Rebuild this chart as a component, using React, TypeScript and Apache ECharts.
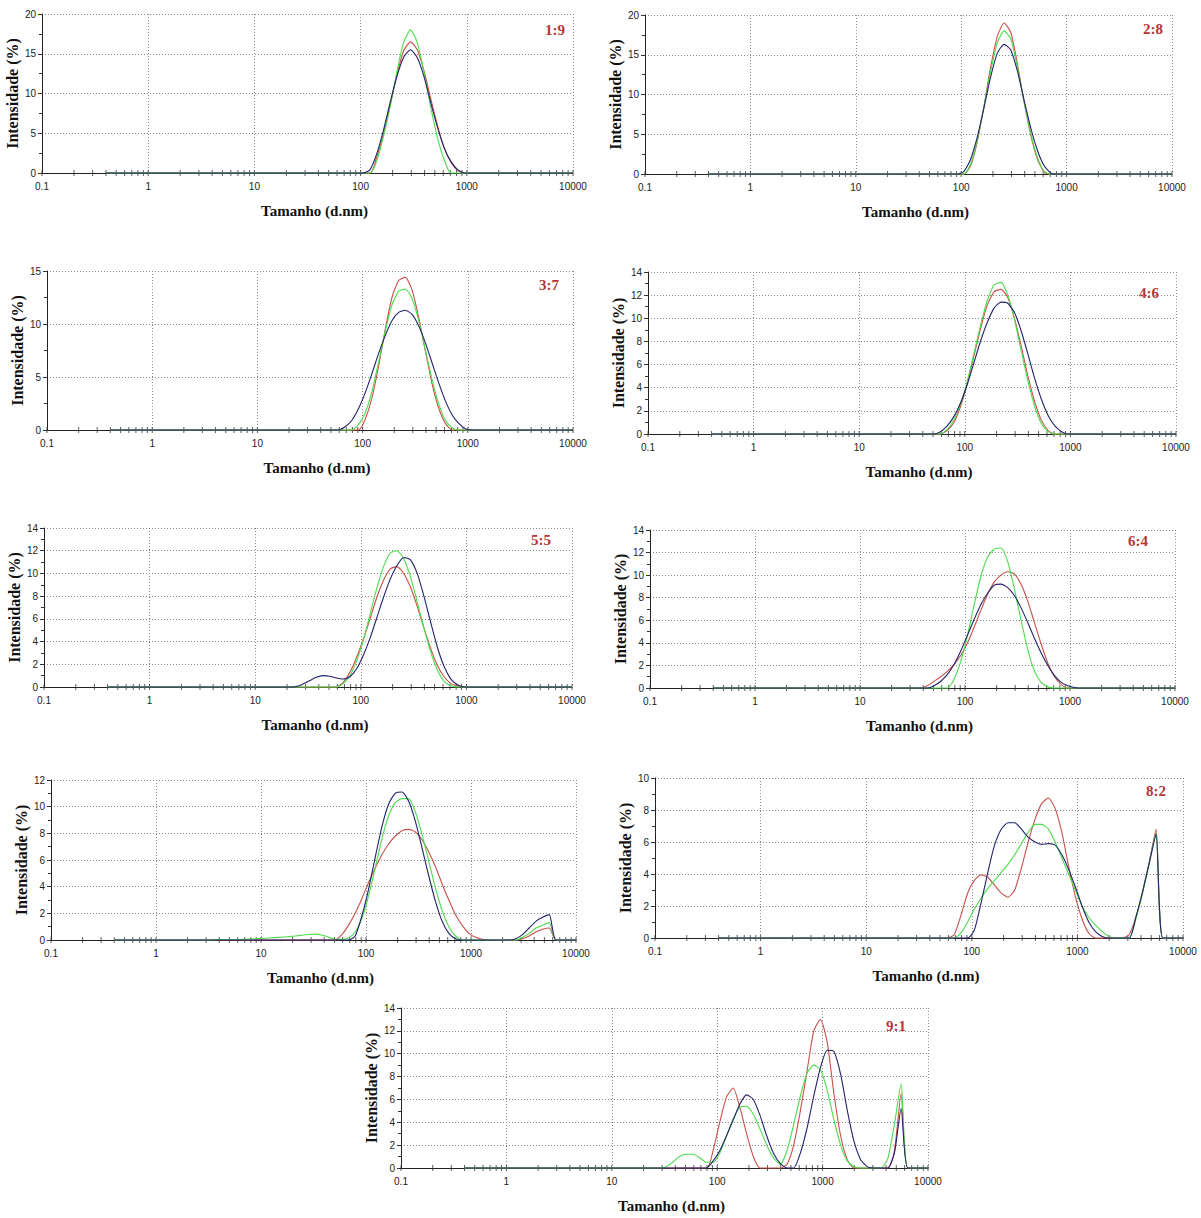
import React, { useEffect, useRef } from "react";
import * as echarts from "echarts";

type Pt = [number, number];

// ---- Data: [size (d.nm), intensity (%)] ----
// Panel 1:9
const p19Red: Pt[] = [[0.4,0],[122.4,0],[141.8,2.0],[164.2,4.9],[190.1,8.6],[220.2,12.4],[255,15.4],[295.3,16.5],[342,15.5],[396.1,12.8],[458.7,9.3],[531.2,5.9],[615.1,3.1],[712.4,1.3],[825,0.3],[955.4,0],[10000,0]];
const p19Green: Pt[] = [[0.4,0],[122.4,0],[141.8,1.5],[164.2,4.6],[190.1,8.4],[220.2,12.8],[255,16.5],[295.3,18.0],[342,16.4],[396.1,12.6],[458.7,8.2],[531.2,4.4],[615.1,1.6],[712.4,0],[10000,0]];
const p19Navy: Pt[] = [[0.4,0],[105.7,0],[122.4,0.4],[141.8,2.4],[164.2,5.4],[190.1,8.9],[220.2,12.2],[255,14.6],[295.3,15.5],[342,14.5],[396.1,12.1],[458.7,8.8],[531.2,5.7],[615.1,3.1],[712.4,1.4],[825,0.4],[955.4,0],[10000,0]];
// Panel 2:8
const p28Red: Pt[] = [[0.4,0],[105.7,0],[122.4,1.0],[141.8,4.0],[164.2,8.5],[190.1,13.4],[220.2,17.3],[255,19.0],[295.3,17.8],[342,13.8],[396.1,9.0],[458.7,4.8],[531.2,1.8],[615.1,0.2],[712.4,0],[10000,0]];
const p28Green: Pt[] = [[0.4,0],[105.7,0],[122.4,1.2],[141.8,4.2],[164.2,8.4],[190.1,12.9],[220.2,16.5],[255,18.0],[295.3,17.0],[342,13.4],[396.1,9.0],[458.7,5.0],[531.2,2.0],[615.1,0.3],[712.4,0],[10000,0]];
const p28Navy: Pt[] = [[0.4,0],[91.28,0],[105.7,0.3],[122.4,1.8],[141.8,4.6],[164.2,8.3],[190.1,12.2],[220.2,15.2],[255,16.3],[295.3,15.6],[342,12.9],[396.1,9.2],[458.7,5.7],[531.2,2.9],[615.1,1.0],[712.4,0.1],[825,0],[10000,0]];
// Panel 3:7
const p37Red: Pt[] = [[0.4,0],[91.28,0],[105.7,1.0],[122.4,3.0],[141.8,6.0],[164.2,9.5],[190.1,12.5],[220.2,14.1],[255,14.4],[295.3,13.2],[342,10.6],[396.1,7.4],[458.7,4.3],[531.2,2.0],[615.1,0.6],[712.4,0],[10000,0]];
const p37Green: Pt[] = [[0.4,0],[78.82,0],[91.28,0.5],[105.7,1.6],[122.4,3.6],[141.8,6.4],[164.2,9.3],[190.1,11.8],[220.2,13.1],[255,13.3],[295.3,12.4],[342,10.3],[396.1,7.5],[458.7,4.7],[531.2,2.4],[615.1,0.9],[712.4,0.2],[825,0],[10000,0]];
const p37Navy: Pt[] = [[0.4,0],[58.77,0],[68.06,0.3],[78.82,0.9],[91.28,2.0],[105.7,3.5],[122.4,5.3],[141.8,7.2],[164.2,8.9],[190.1,10.3],[220.2,11.1],[255,11.3],[295.3,10.9],[342,9.8],[396.1,8.2],[458.7,6.3],[531.2,4.4],[615.1,2.7],[712.4,1.4],[825,0.6],[955.4,0.1],[1106,0],[10000,0]];
// Panel 4:6
const p46Red: Pt[] = [[0.4,0],[58.77,0],[68.06,0.3],[78.82,1.0],[91.28,2.4],[105.7,4.4],[122.4,6.8],[141.8,9.2],[164.2,11.2],[190.1,12.3],[220.2,12.5],[255,11.8],[295.3,10.0],[342,7.6],[396.1,5.0],[458.7,2.8],[531.2,1.2],[615.1,0.3],[712.4,0],[10000,0]];
const p46Green: Pt[] = [[0.4,0],[58.77,0],[68.06,0.4],[78.82,1.2],[91.28,2.6],[105.7,4.6],[122.4,7.0],[141.8,9.5],[164.2,11.6],[190.1,12.9],[220.2,13.1],[255,12.0],[295.3,9.9],[342,7.2],[396.1,4.6],[458.7,2.4],[531.2,0.9],[615.1,0.2],[712.4,0],[10000,0]];
const p46Navy: Pt[] = [[0.4,0],[50.75,0],[58.77,0.2],[68.06,0.7],[78.82,1.5],[91.28,2.7],[105.7,4.3],[122.4,6.2],[141.8,8.1],[164.2,9.7],[190.1,10.9],[220.2,11.4],[255,11.3],[295.3,10.5],[342,8.9],[396.1,6.9],[458.7,4.8],[531.2,3.0],[615.1,1.6],[712.4,0.7],[825,0.2],[955.4,0],[10000,0]];
// Panel 5:5
const p55Red: Pt[] = [[0.4,0],[58.77,0],[68.06,0.4],[78.82,1.3],[91.28,2.6],[105.7,4.2],[122.4,6.0],[141.8,7.9],[164.2,9.4],[190.1,10.4],[220.2,10.6],[255,10.0],[295.3,8.8],[342,7.1],[396.1,5.2],[458.7,3.4],[531.2,1.9],[615.1,0.9],[712.4,0.3],[825,0.1],[955.4,0],[10000,0]];
const p55Green: Pt[] = [[0.4,0],[58.77,0],[68.06,0.3],[78.82,1.0],[91.28,2.3],[105.7,4.1],[122.4,6.4],[141.8,8.7],[164.2,10.6],[190.1,11.8],[220.2,12.0],[255,11.3],[295.3,9.7],[342,7.5],[396.1,5.2],[458.7,3.1],[531.2,1.5],[615.1,0.5],[712.4,0.1],[825,0],[10000,0]];
const p55Navy: Pt[] = [[0.4,0],[21.04,0],[24.36,0.05],[28.21,0.25],[32.67,0.55],[37.84,0.85],[43.82,1.0],[50.75,0.95],[58.77,0.8],[68.06,0.7],[78.82,0.9],[91.28,1.6],[105.7,2.8],[122.4,4.3],[141.8,6.1],[164.2,7.9],[190.1,9.5],[220.2,10.7],[255,11.4],[295.3,11.2],[342,10.0],[396.1,8.0],[458.7,5.7],[531.2,3.5],[615.1,1.8],[712.4,0.7],[825,0.2],[955.4,0],[10000,0]];
// Panel 6:4
const p64Red: Pt[] = [[0.4,0],[37.84,0],[43.82,0.2],[50.75,0.6],[58.77,1.0],[68.06,1.5],[78.82,2.1],[91.28,2.9],[105.7,4.0],[122.4,5.4],[141.8,6.9],[164.2,8.3],[190.1,9.4],[220.2,10.0],[255,10.3],[295.3,10.1],[342,9.2],[396.1,7.7],[458.7,5.8],[531.2,3.9],[615.1,2.2],[712.4,1.0],[825,0.3],[955.4,0],[10000,0]];
const p64Green: Pt[] = [[0.4,0],[68.06,0],[78.82,0.8],[91.28,2.4],[105.7,4.7],[122.4,7.4],[141.8,9.9],[164.2,11.6],[190.1,12.3],[220.2,12.4],[255,11.2],[295.3,8.8],[342,6.0],[396.1,3.4],[458.7,1.5],[531.2,0.5],[615.1,0.1],[712.4,0],[10000,0]];
const p64Navy: Pt[] = [[0.4,0],[43.82,0],[50.75,0.2],[58.77,0.6],[68.06,1.2],[78.82,2.1],[91.28,3.3],[105.7,4.7],[122.4,6.1],[141.8,7.4],[164.2,8.4],[190.1,9.1],[220.2,9.2],[255,8.9],[295.3,8.2],[342,7.1],[396.1,5.8],[458.7,4.4],[531.2,3.1],[615.1,2.0],[712.4,1.1],[825,0.5],[955.4,0.2],[1106,0.05],[1281,0],[10000,0]];
// Panel 7:3
const p73Red: Pt[] = [[0.4,0],[50.75,0],[58.77,0.4],[68.06,1.1],[78.82,2.0],[91.28,3.1],[105.7,4.3],[122.4,5.4],[141.8,6.4],[164.2,7.2],[190.1,7.8],[220.2,8.2],[255,8.3],[295.3,8.1],[342,7.5],[396.1,6.6],[458.7,5.5],[531.2,4.2],[615.1,3.0],[712.4,1.9],[825,1.1],[955.4,0.5],[1106,0.2],[1281,0.05],[1484,0],[2669,0],[3091,0.1],[3580,0.3],[4145,0.6],[4801,0.8],[5560,0.9],[6439,0],[10000,0]];
const p73Green: Pt[] = [[0.4,0],[3.122,0],[3.615,0.03],[4.187,0.04],[5.615,0.04],[6.503,0.05],[7.531,0.07],[8.721,0.09],[10.1,0.12],[11.7,0.15],[13.54,0.18],[15.69,0.21],[18.17,0.25],[21.04,0.3],[24.36,0.36],[28.21,0.41],[32.67,0.44],[37.84,0.38],[43.82,0.22],[50.75,0.06],[58.77,0.05],[68.06,0.15],[78.82,0.6],[91.28,1.6],[105.7,3.3],[122.4,5.4],[141.8,7.6],[164.2,9.3],[190.1,10.3],[220.2,10.6],[255,10.6],[295.3,9.6],[342,7.9],[396.1,5.9],[458.7,3.9],[531.2,2.2],[615.1,1.0],[712.4,0.3],[825,0],[2669,0],[3091,0.2],[3580,0.5],[4145,0.9],[4801,1.1],[5560,1.3],[6439,0],[10000,0]];
const p73Navy: Pt[] = [[0.4,0],[68.06,0],[78.82,0.3],[91.28,1.8],[105.7,3.8],[122.4,6.2],[141.8,8.5],[164.2,10.2],[190.1,11.0],[220.2,11.1],[255,10.4],[295.3,8.9],[342,6.9],[396.1,4.8],[458.7,2.9],[531.2,1.4],[615.1,0.5],[712.4,0.1],[825,0],[2305,0],[2669,0.1],[3091,0.4],[3580,0.9],[4145,1.4],[4801,1.7],[5560,1.9],[6439,0],[10000,0]];
// Panel 8:2
const p82Red: Pt[] = [[0.4,0],[58.77,0],[68.06,0.2],[78.82,1.4],[91.28,2.8],[105.7,3.6],[122.4,3.95],[141.8,3.8],[164.2,3.3],[190.1,2.8],[220.2,2.55],[255,3.0],[295.3,4.4],[342,6.0],[396.1,7.4],[458.7,8.4],[531.2,8.75],[615.1,8.1],[712.4,6.6],[825,4.5],[955.4,2.6],[1106,1.2],[1281,0.3],[1484,0],[2669,0],[3091,0.2],[3580,1.3],[4145,2.9],[4801,4.8],[5560,6.8],[6439,0],[10000,0]];
const p82Green: Pt[] = [[0.4,0],[68.06,0],[78.82,0.3],[91.28,1.0],[105.7,1.8],[122.4,2.5],[141.8,3.1],[164.2,3.6],[190.1,4.1],[220.2,4.6],[255,5.2],[295.3,5.9],[342,6.6],[396.1,7.1],[458.7,7.1],[531.2,6.8],[615.1,6.0],[712.4,5.0],[825,4.0],[955.4,3.0],[1106,2.0],[1281,1.3],[1484,0.8],[1718,0.4],[1990,0.1],[2305,0],[3091,0],[3580,1.2],[4145,2.8],[4801,4.7],[5560,6.6],[6439,0],[10000,0]];
const p82Navy: Pt[] = [[0.4,0],[91.28,0],[105.7,0.5],[122.4,2.2],[141.8,4.1],[164.2,5.8],[190.1,6.8],[220.2,7.2],[255,7.2],[295.3,6.8],[342,6.3],[396.1,6.0],[458.7,5.85],[531.2,5.9],[615.1,5.8],[712.4,5.2],[825,4.3],[955.4,3.2],[1106,2.0],[1281,1.0],[1484,0.4],[1718,0.1],[1990,0],[3091,0],[3580,1.3],[4145,2.9],[4801,4.7],[5560,6.5],[6439,0],[10000,0]];
// Panel 9:1
const p91Red: Pt[] = [[0.4,0],[78.82,0],[91.28,1.5],[105.7,4.0],[122.4,6.2],[141.8,7.0],[164.2,5.3],[190.1,3.0],[220.2,1.0],[255,0],[396.1,0],[458.7,0.3],[531.2,2.0],[615.1,5.0],[712.4,8.5],[825,12.0],[955.4,13.0],[1106,11.0],[1281,6.5],[1484,2.8],[1718,0.7],[1990,0],[4145,0],[4801,1.5],[5560,6.5],[6439,0],[10000,0]];
const p91Green: Pt[] = [[0.4,0],[28.21,0],[32.67,0.1],[37.84,0.5],[43.82,1.0],[50.75,1.2],[58.77,1.2],[68.06,0.9],[78.82,0.5],[91.28,0.5],[105.7,1.3],[122.4,2.8],[141.8,4.3],[164.2,5.3],[190.1,5.4],[220.2,4.7],[255,3.4],[295.3,2.0],[342,0.9],[396.1,0.3],[458.7,1.5],[531.2,3.8],[615.1,6.3],[712.4,8.3],[825,9.0],[955.4,8.6],[1106,6.8],[1281,4.2],[1484,2.0],[1718,0.6],[1990,0.1],[2305,0],[3580,0],[4145,0.8],[4801,3.8],[5560,7.4],[6439,0],[10000,0]];
const p91Navy: Pt[] = [[0.4,0],[78.82,0],[91.28,0.6],[105.7,1.5],[122.4,2.8],[141.8,4.2],[164.2,5.6],[190.1,6.4],[220.2,6.0],[255,4.6],[295.3,2.8],[342,1.3],[396.1,0.4],[458.7,0],[531.2,0],[615.1,1.3],[712.4,3.5],[825,6.3],[955.4,8.8],[1106,10.3],[1281,10.2],[1484,8.2],[1718,5.0],[1990,2.3],[2305,0.7],[2669,0.1],[3091,0],[4145,0],[4801,1.3],[5560,5.2],[6439,0],[10000,0]];

const PANEL_LABELS = ["1:9", "2:8", "3:7", "4:6", "5:5", "6:4", "", "8:2", "9:1"];
const Y_MAX = [20, 20, 15, 14, 14, 14, 12, 10, 14];
const Y_INTERVAL = [5, 5, 5, 2, 2, 2, 2, 2, 2];
const X_TICK_LABELS = ["0.1", "1", "10", "100", "1000", "10000"];
const RED_SERIES = [p19Red, p28Red, p37Red, p46Red, p55Red, p64Red, p73Red, p82Red, p91Red];
const GREEN_SERIES = [p19Green, p28Green, p37Green, p46Green, p55Green, p64Green, p73Green, p82Green, p91Green];
const NAVY_SERIES = [p19Navy, p28Navy, p37Navy, p46Navy, p55Navy, p64Navy, p73Navy, p82Navy, p91Navy];
const X_TITLE = "Tamanho (d.nm)";
const Y_TITLE = "Intensidade (%)";

// ---- Layout ----
const GRID_RECTS = [
  { left: 42, top: 14, width: 531, height: 159 },
  { left: 645, top: 15, width: 527, height: 159 },
  { left: 47, top: 271, width: 526, height: 159 },
  { left: 648, top: 272, width: 528, height: 162 },
  { left: 44, top: 528, width: 528, height: 159 },
  { left: 650, top: 530, width: 525, height: 158 },
  { left: 51, top: 780, width: 525, height: 160 },
  { left: 655, top: 778, width: 528, height: 160 },
  { left: 401, top: 1008, width: 527, height: 160 },
];
const LABEL_POS = [
  [555, 30], [1153, 29], [549, 285], [1149, 293], [541, 540], [1138, 541], [0, 0], [1156, 791], [896, 1026],
];

const COLORS = { red: "#c8504a", green: "#4cdc4c", navy: "#23236e", label: "#b53535" };
const SERIF = "'Liberation Serif', 'Times New Roman', serif";
const SANS = "'Liberation Sans', Arial, sans-serif";

function buildOption(): echarts.EChartsOption {
  const grid: any[] = [];
  const xAxis: any[] = [];
  const yAxis: any[] = [];
  const series: any[] = [];
  const graphic: any[] = [];

  // x-axis tick positions (decades and minor 2..9)
  const tickPts: Pt[] = [];
  for (let e = -1; e <= 3; e++) {
    const d = Math.pow(10, e);
    for (let m = 1; m <= 9; m++) tickPts.push([+(m * d).toPrecision(6), 0]);
  }
  tickPts.push([10000, 0]);

  GRID_RECTS.forEach((r, i) => {
    grid.push({ ...r, containLabel: false });
    xAxis.push({
      type: "log",
      logBase: 10,
      gridIndex: i,
      min: 0.1,
      max: 10000,
      axisLine: { show: true, lineStyle: { color: "#222", width: 1 } },
      axisTick: { show: false },
      axisLabel: {
        fontSize: 10,
        fontFamily: SANS,
        color: "#222",
        margin: 8,
        formatter: (v: number) => X_TICK_LABELS[Math.round(Math.log10(v)) + 1] ?? "",
      },
      splitLine: { show: true, lineStyle: { color: "#8a8a8a", width: 1, type: [1, 2] } },
      name: X_TITLE,
      nameLocation: "middle",
      nameGap: 30,
      nameTextStyle: {
        fontFamily: SERIF,
        fontWeight: "bold",
        fontSize: 15,
        color: "#111",
        padding: [0, 0, 0, 14],
      },
    });
    yAxis.push({
      type: "value",
      gridIndex: i,
      min: 0,
      max: Y_MAX[i],
      interval: Y_INTERVAL[i],
      axisLine: { show: true, lineStyle: { color: "#222", width: 1 } },
      axisTick: { show: true, length: 4, lineStyle: { color: "#333" } },
      minorTick: { show: true, splitNumber: 2, length: 3, lineStyle: { color: "#333" } },
      axisLabel: { fontSize: 10, fontFamily: SANS, color: "#222", margin: 6 },
      splitLine: { show: true, lineStyle: { color: "#8a8a8a", width: 1, type: [1, 2] } },
      name: Y_TITLE,
      nameLocation: "middle",
      nameGap: 16,
      nameTextStyle: { fontFamily: SERIF, fontWeight: "bold", fontSize: 16, color: "#111" },
    });
    series.push({
      type: "scatter",
      xAxisIndex: i,
      yAxisIndex: i,
      data: tickPts,
      symbol: "rect",
      symbolSize: [1, 6],
      itemStyle: { color: "#333" },
      silent: true,
      clip: false,
      z: 1,
    });
    const lines: [Pt[], string][] = [
      [RED_SERIES[i], COLORS.red],
      [GREEN_SERIES[i], COLORS.green],
      [NAVY_SERIES[i], COLORS.navy],
    ];
    lines.forEach(([data, color]) => {
      series.push({
        type: "line",
        xAxisIndex: i,
        yAxisIndex: i,
        data,
        showSymbol: false,
        smooth: 0.2,
        clip: false,
        lineStyle: { color, width: 1.1 },
        itemStyle: { color },
        z: 3,
      });
    });
    if (PANEL_LABELS[i]) {
      graphic.push({
        type: "text",
        x: LABEL_POS[i][0],
        y: LABEL_POS[i][1],
        style: {
          text: PANEL_LABELS[i],
          fontFamily: SERIF,
          fontWeight: "bold",
          fontSize: 15,
          fill: COLORS.label,
          align: "center",
          verticalAlign: "middle",
        },
      });
    }
  });

  return {
    animation: false,
    backgroundColor: "#ffffff",
    grid,
    xAxis,
    yAxis,
    series,
    graphic,
  };
}

export default function App() {
  const ref = useRef<HTMLDivElement>(null);
  useEffect(() => {
    if (!ref.current) return;
    const chart = echarts.init(ref.current, undefined, { renderer: "svg" });
    chart.setOption(buildOption());
    return () => chart.dispose();
  }, []);
  return (
    <div
      ref={ref}
      style={{ position: "absolute", left: 0, top: 0, width: 1201, height: 1218, background: "#fff" }}
    />
  );
}
